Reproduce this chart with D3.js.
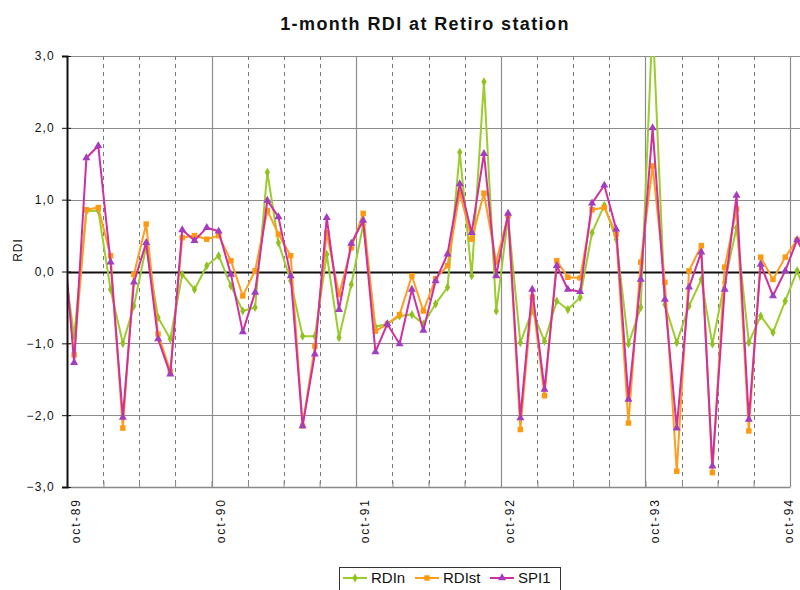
<!DOCTYPE html>
<html>
<head>
<meta charset="utf-8">
<script src="https://cdn.jsdelivr.net/npm/d3@7"></script>
<style>
  body { margin: 0; background: #fff; }
  svg { display: block; font-family: Arial, "Liberation Sans", sans-serif; }
</style>
</head>
<body>
<div id="chart"></div>
<script>
// monthly values, sep-89 .. nov-94 (first and last are clipped at the plot edge)
var rdin = [0.30,
    -0.90, 0.84, 0.85, -0.25, -1.00, -0.48, 0.35, -0.64, -0.94, -0.04, -0.25, 0.08,
    0.22, -0.20, -0.55, -0.50, 1.38, 0.40, -0.13, -0.90, -0.90, 0.24, -0.92, -0.18,
    0.65, -0.77, -0.73, -0.62, -0.60, -0.73, -0.45, -0.22, 1.66, -0.06, 2.64, -0.55,
    0.75, -0.99, -0.55, -0.97, -0.41, -0.53, -0.36, 0.54, 0.92, 0.45, -1.01, -0.50,
    3.50, -0.46, -0.99, -0.48, -0.11, -1.01, -0.15, 0.61, -0.99, -0.62, -0.85, -0.41,
    0.01, -0.45];
var rdist = [0.50,
    -1.16, 0.86, 0.89, 0.22, -2.18, -0.04, 0.66, -0.87, -1.39, 0.47, 0.50, 0.45,
    0.50, 0.15, -0.34, 0.01, 0.85, 0.52, 0.22, -2.15, -1.04, 0.54, -0.32, 0.33,
    0.81, -0.83, -0.73, -0.60, -0.06, -0.55, -0.10, 0.08, 1.10, 0.45, 1.09, 0.13,
    0.78, -2.20, -0.36, -1.73, 0.15, -0.08, -0.09, 0.86, 0.89, 0.52, -2.11, 0.13,
    1.47, -0.15, -2.78, 0.01, 0.36, -2.80, 0.06, 0.87, -2.22, 0.20, -0.11, 0.20,
    0.44, 0.15];
var spi1 = [0.70,
    -1.27, 1.58, 1.75, 0.13, -2.03, -0.15, 0.40, -0.94, -1.43, 0.58, 0.43, 0.61,
    0.56, -0.04, -0.84, -0.29, 0.99, 0.76, -0.06, -2.15, -1.15, 0.75, -0.53, 0.39,
    0.71, -1.12, -0.73, -1.01, -0.25, -0.82, -0.13, 0.24, 1.22, 0.54, 1.64, -0.06,
    0.81, -2.04, -0.25, -1.64, 0.08, -0.25, -0.28, 0.95, 1.20, 0.59, -1.78, -0.11,
    2.00, -0.39, -2.18, -0.22, 0.27, -2.71, -0.25, 1.06, -2.06, 0.10, -0.34, 0.01,
    0.44, 0.10];
var yearLabels = ["oct-89", "oct-90", "oct-91", "oct-92", "oct-93", "oct-94"];
var yTicks = [-3, -2, -1, 0, 1, 2, 3];

var months = d3.timeMonth.range(new Date(1989, 8, 1), new Date(1994, 11, 1));

var series = [
    {name: "RDIn", values: rdin, color: "#9ccc2e", marker: "#8fc21f", shape: d3.symbolDiamond, size: 24},
    {name: "RDIst", values: rdist, color: "#ff9d1f", marker: "#ff9a10", shape: d3.symbolSquare, size: 30},
    {name: "SPI1", values: spi1, color: "#d0309f", marker: "#a43cc0", shape: d3.symbolTriangle, size: 28}
];

var width = 800, height = 590;
var margin = {top: 56, right: -6, bottom: 103, left: 67};
var plotW = width - margin.left - margin.right,
    plotH = height - margin.top - margin.bottom;

var svg = d3.select("#chart").append("svg")
    .attr("width", width)
    .attr("height", height);

svg.append("rect").attr("width", width).attr("height", height).attr("fill", "#fff");

var x = d3.scaleTime()
    .domain([new Date(1989, 9, 1), new Date(1994, 9, 1)])
    .range([0, 723]);
var y = d3.scaleLinear().domain([-3, 3]).range([plotH, 0]);

// points sit inside their month
function px(d) { return x(d3.timeDay.offset(d, 18)); }
function crisp(v) { return Math.round(v) + 0.5; }

var quarters = d3.timeMonth.every(3).range(new Date(1989, 9, 1), new Date(1994, 10, 1));

var g = svg.append("g").attr("transform", "translate(" + margin.left + "," + margin.top + ")");

g.append("clipPath").attr("id", "plotclip")
    .append("rect").attr("x", 0).attr("y", 0).attr("width", plotW).attr("height", plotH);

// horizontal grid
g.append("g").selectAll("line")
    .data(yTicks.filter(function(d){ return d !== -3 && d !== 0; }))
    .enter().append("line")
    .attr("x1", 0).attr("x2", plotW)
    .attr("y1", function(d){ return crisp(y(d)); })
    .attr("y2", function(d){ return crisp(y(d)); })
    .attr("stroke", "#8c8c8c").attr("stroke-width", 1.2);

// vertical grid: solid at october, dashed at other quarters
g.append("g").selectAll("line")
    .data(quarters.slice(1))
    .enter().append("line")
    .attr("x1", function(d){ return crisp(x(d)); })
    .attr("x2", function(d){ return crisp(x(d)); })
    .attr("y1", 0).attr("y2", plotH)
    .attr("stroke", function(d){ return d.getMonth() === 9 ? "#8c8c8c" : "#7a7a7a"; })
    .attr("stroke-width", function(d){ return d.getMonth() === 9 ? 1.2 : 1; })
    .attr("stroke-dasharray", function(d){ return d.getMonth() === 9 ? null : "4,4"; });

// x axis
var xAxis = d3.axisBottom(x)
    .tickValues(quarters)
    .tickSizeInner(-6)
    .tickSizeOuter(0)
    .tickFormat(function(d){
        return d.getMonth() === 9 ? yearLabels[d.getFullYear() - 1989] : "";
    });

var gx = g.append("g")
    .attr("transform", "translate(0," + plotH + ")")
    .call(xAxis);
gx.select(".domain").attr("stroke", "#8a8a8a").attr("stroke-width", 1.5);
gx.selectAll(".tick line").attr("stroke", "#8a8a8a");
gx.selectAll(".tick text")
    .attr("transform", "rotate(-90)")
    .attr("text-anchor", "end")
    .attr("x", -11)
    .attr("y", function(d){ return d.getFullYear() === 1994 ? -10 : 0; })
    .attr("dy", "1.05em")
    .attr("font-size", 12)
    .attr("letter-spacing", 2)
    .attr("fill", "#111");

// zero line
g.append("line")
    .attr("x1", 0).attr("x2", plotW)
    .attr("y1", crisp(y(0))).attr("y2", crisp(y(0)))
    .attr("stroke", "#111").attr("stroke-width", 2);

// series
var plot = g.append("g").attr("clip-path", "url(#plotclip)");

series.forEach(function(s){
    var line = d3.line()
        .x(function(d, i){ return px(months[i]); })
        .y(function(d){ return y(d); });

    plot.append("path")
        .datum(s.values)
        .attr("fill", "none")
        .attr("stroke", s.color)
        .attr("stroke-width", 2)
        .attr("stroke-linejoin", "round")
        .attr("d", line);

    plot.append("g").selectAll("path")
        .data(s.values)
        .enter().append("path")
        .attr("transform", function(d, i){ return "translate(" + px(months[i]) + "," + y(d) + ")"; })
        .attr("d", d3.symbol().type(s.shape).size(s.size))
        .attr("fill", s.marker);
});

// y axis
var yAxis = d3.axisLeft(y)
    .tickValues(yTicks)
    .tickSize(5)
    .tickPadding(7)
    .tickFormat(function(d){ return d3.format(".1f")(d).replace(".", ","); });

var gy = g.append("g").call(yAxis);
gy.select(".domain").attr("stroke", "#111").attr("stroke-width", 2);
gy.selectAll(".tick line").attr("x1", 4).attr("stroke", "#111");
gy.selectAll(".tick text")
    .attr("font-size", 12)
    .attr("letter-spacing", 1.2)
    .attr("fill", "#111");

// titles
svg.append("text")
    .attr("x", 425).attr("y", 30)
    .attr("text-anchor", "middle")
    .attr("font-size", 18)
    .attr("font-weight", "bold")
    .attr("letter-spacing", 1.4)
    .attr("fill", "#111")
    .text("1-month RDI at Retiro station");

svg.append("text")
    .attr("transform", "translate(22,250) rotate(-90)")
    .attr("text-anchor", "middle")
    .attr("font-size", 12)
    .attr("letter-spacing", 1)
    .attr("fill", "#111")
    .text("RDI");

// legend
var legend = svg.append("g").attr("transform", "translate(339,567)");
legend.append("rect")
    .attr("x", 0.5).attr("y", 0.5)
    .attr("width", 221).attr("height", 30)
    .attr("fill", "#fff")
    .attr("stroke", "#333").attr("stroke-width", 1);

var legendX = [4, 76, 151];
series.forEach(function(s, i){
    var item = legend.append("g").attr("transform", "translate(" + legendX[i] + ",11)");
    item.append("line")
        .attr("x1", 0).attr("x2", 24)
        .attr("stroke", s.color).attr("stroke-width", 2);
    item.append("path")
        .attr("transform", "translate(12,0)")
        .attr("d", d3.symbol().type(s.shape).size(s.size))
        .attr("fill", s.marker);
    item.append("text")
        .attr("x", 28).attr("y", 0)
        .attr("dy", "0.36em")
        .attr("font-size", 15)
        .attr("fill", "#111")
        .text(s.name);
});
</script>
</body>
</html>
